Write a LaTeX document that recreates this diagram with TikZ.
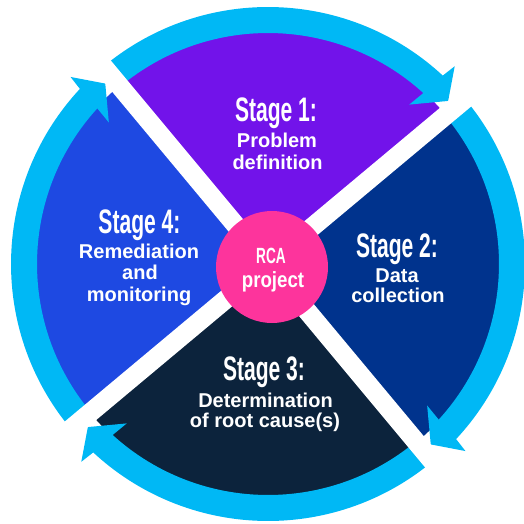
\documentclass[tikz,border=0pt]{standalone}
\usepackage{fontspec}
\setmainfont{Liberation Sans}
\newfontfamily\condfont[FakeStretch=0.62]{Liberation Sans}
\newfontfamily\condfontP[FakeStretch=0.85]{Liberation Sans}
\definecolor{ringc}{HTML}{00B8F5}
\definecolor{qpurple}{HTML}{7213EA}
\definecolor{qcobalt}{HTML}{1E49E2}
\definecolor{qnavy}{HTML}{00338D}
\definecolor{qdark}{HTML}{0C233C}
\definecolor{qpink}{HTML}{FD349C}
\tikzset{
  ttl/.style={text=white, anchor=base, inner sep=0pt, font=\condfont\bfseries\fontsize{34}{34}\selectfont},
  desc/.style={text=white, anchor=base, inner sep=0pt, font=\bfseries\fontsize{20}{20}\selectfont},
  gapline/.style={white, line width=19pt},
}
\newcommand{\ringpiece}[2]{% #1 tip angle, #2 start angle (ccw end)
  \fill[ringc] ([shift={(C)}]#1+4.5:231) arc[start angle=#1+4.5, end angle=#2, radius=231]
     -- ([shift={(C)}]#2:257) arc[start angle=#2, end angle=#1+4.5, radius=257] -- cycle;
  \fill[ringc] ([shift={(C)}]#1:243) -- ([shift={(C)}]#1+4.5:272) -- ([shift={(C)}]#1+5.0:257)
     -- ([shift={(C)}]#1+5.6:231) -- ([shift={(C)}]#1+6.3:213) -- cycle;
}
\begin{document}
\begin{tikzpicture}[x=1pt,y=1pt]
\useasboundingbox (0,0) rectangle (524,523);
\coordinate (C) at (268,259);
% quadrants
\fill[qpurple] (C) -- ([shift={(C)}]39.9:232) arc[start angle=39.9, end angle=129.8, radius=232] -- cycle;
\fill[qcobalt] (C) -- ([shift={(C)}]129.8:232) arc[start angle=129.8, end angle=219.9, radius=232] -- cycle;
\fill[qdark] (C) -- ([shift={(C)}]219.9:232) arc[start angle=219.9, end angle=309.8, radius=232] -- cycle;
\fill[qnavy] (C) -- ([shift={(C)}]-50.2:232) arc[start angle=-50.2, end angle=39.9, radius=232] -- cycle;
% ring arrows
\ringpiece{42.15}{129.8}
\ringpiece{-47.95}{39.9}
\ringpiece{222.15}{309.8}
\ringpiece{132.05}{219.9}
% gaps
\coordinate (gA1) at ([shift={(C)}]129.8:266);
\coordinate (gA2) at ([shift={(C)}]-50.2:266);
\coordinate (gB1) at ([shift={(C)}]39.9:266);
\coordinate (gB2) at ([shift={(C)}]219.9:266);
\draw[gapline] (gA1) -- (gA2);
\draw[gapline] (gB1) -- (gB2);
% centre
\node[circle, fill=qpink, minimum size=112pt, inner sep=0pt] (rca) at (272,256) {};
\node[text=white, anchor=base, inner sep=0pt, font=\condfont\bfseries\fontsize{22}{22}\selectfont] (rcaA) at (271,260) {RCA};
\node[text=white, anchor=base, inner sep=0pt, font=\condfontP\bfseries\fontsize{22}{22}\selectfont] (rcaB) at (273,236) {project};
% stage 1
\node[ttl] (s1t) at (276,401) {Stage 1:};
\node[desc] (s1a) at (277,375) {Problem};
\node[desc] (s1b) at (277.5,353) {definition};
% stage 2
\node[ttl] (s2t) at (397,266) {Stage 2:};
\node[desc] (s2a) at (397,241) {Data};
\node[desc] (s2b) at (398,220.5) {collection};
% stage 3
\node[ttl] (s3t) at (264,143) {Stage 3:};
\node[desc] (s3a) at (265.5,116) {Determination};
\node[desc] (s3b) at (265,96) {of root cause(s)};
% stage 4
\node[ttl] (s4t) at (139.5,290) {Stage 4:};
\node[desc] (s4a) at (139,265) {Remediation};
\node[desc] (s4b) at (140,244) {and};
\node[desc] (s4c) at (139,222) {monitoring};
\end{tikzpicture}
\end{document}
